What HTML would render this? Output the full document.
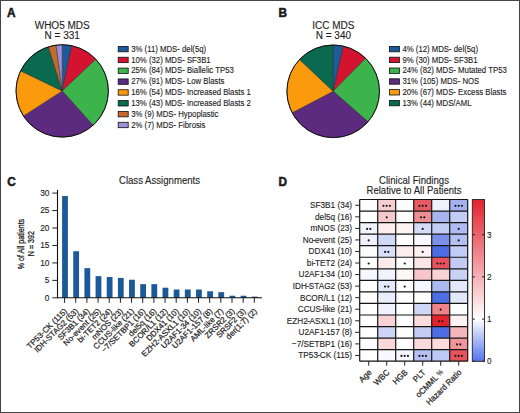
<!DOCTYPE html>
<html><head><meta charset="utf-8"><style>
html,body{margin:0;padding:0;background:#fff;}
svg{display:block;}
text{font-family:"Liberation Sans", sans-serif;fill:#1e1e1e;stroke:#1e1e1e;stroke-width:0.12px;}
.h{stroke-width:0.22px;}
.hb{stroke-width:0.3px;}
</style></head><body>
<svg width="520" height="413" viewBox="0 0 520 413">
<rect x="0.5" y="0.5" width="519" height="412" fill="#fff" stroke="#454545" stroke-width="1"/>
<text transform="translate(7.00,17.10) scale(1.0,1.04)" font-size="11.8" font-weight="bold" style="stroke:#111;stroke-width:0.5px">A</text>
<text transform="translate(278.40,17.10) scale(1.0,1.04)" font-size="11.8" font-weight="bold" style="stroke:#111;stroke-width:0.5px">B</text>
<text transform="translate(7.20,185.80) scale(1.0,1.04)" font-size="11.8" font-weight="bold" style="stroke:#111;stroke-width:0.5px">C</text>
<text transform="translate(278.40,185.70) scale(1.0,1.04)" font-size="11.8" font-weight="bold" style="stroke:#111;stroke-width:0.5px">D</text>
<text transform="translate(62.20,28.60)" font-size="10.0" text-anchor="middle">WHO5 MDS</text>
<text transform="translate(62.20,38.60)" font-size="10.0" text-anchor="middle">N = 331</text>
<path d="M62.2,90.9 L62.20,44.70 A46.2,46.2 0 0 1 71.78,45.70 Z" fill="#1d5a9a" stroke="#222" stroke-width="0.45" stroke-linejoin="round"/>
<path d="M62.2,90.9 L71.78,45.70 A46.2,46.2 0 0 1 95.86,59.25 Z" fill="#d3132f" stroke="#222" stroke-width="0.45" stroke-linejoin="round"/>
<path d="M62.2,90.9 L95.86,59.25 A46.2,46.2 0 0 1 93.04,125.30 Z" fill="#3cb44b" stroke="#222" stroke-width="0.45" stroke-linejoin="round"/>
<path d="M62.2,90.9 L93.04,125.30 A46.2,46.2 0 0 1 23.41,115.99 Z" fill="#5c2a7e" stroke="#222" stroke-width="0.45" stroke-linejoin="round"/>
<path d="M62.2,90.9 L23.41,115.99 A46.2,46.2 0 0 1 20.62,70.77 Z" fill="#fb9a0d" stroke="#222" stroke-width="0.45" stroke-linejoin="round"/>
<path d="M62.2,90.9 L20.62,70.77 A46.2,46.2 0 0 1 48.38,46.81 Z" fill="#0a6a50" stroke="#222" stroke-width="0.45" stroke-linejoin="round"/>
<path d="M62.2,90.9 L48.38,46.81 A46.2,46.2 0 0 1 56.08,45.11 Z" fill="#c46a2c" stroke="#222" stroke-width="0.45" stroke-linejoin="round"/>
<path d="M62.2,90.9 L56.08,45.11 A46.2,46.2 0 0 1 62.20,44.70 Z" fill="#9c90db" stroke="#222" stroke-width="0.45" stroke-linejoin="round"/>
<circle cx="62.2" cy="90.9" r="46.2" fill="none" stroke="#111" stroke-width="1"/>
<rect x="118.2" y="46.40" width="10" height="5.4" fill="#1d5a9a" stroke="#111" stroke-width="0.8"/>
<text transform="translate(131.20,51.80) scale(1.0,1.12)" font-size="7.78">3% (11) MDS- del(5q)</text>
<rect x="118.2" y="57.24" width="10" height="5.4" fill="#d3132f" stroke="#111" stroke-width="0.8"/>
<text transform="translate(131.20,62.64) scale(1.0,1.12)" font-size="7.78">10% (32) MDS- SF3B1</text>
<rect x="118.2" y="68.08" width="10" height="5.4" fill="#3cb44b" stroke="#111" stroke-width="0.8"/>
<text transform="translate(131.20,73.48) scale(1.0,1.12)" font-size="7.78">25% (84) MDS- Biallelic TP53</text>
<rect x="118.2" y="78.92" width="10" height="5.4" fill="#5c2a7e" stroke="#111" stroke-width="0.8"/>
<text transform="translate(131.20,84.32) scale(1.0,1.12)" font-size="7.78">27% (91) MDS- Low Blasts</text>
<rect x="118.2" y="89.76" width="10" height="5.4" fill="#fb9a0d" stroke="#111" stroke-width="0.8"/>
<text transform="translate(131.20,95.16) scale(1.0,1.12)" font-size="7.78">16% (54) MDS- Increased Blasts 1</text>
<rect x="118.2" y="100.60" width="10" height="5.4" fill="#0a6a50" stroke="#111" stroke-width="0.8"/>
<text transform="translate(131.20,106.00) scale(1.0,1.12)" font-size="7.78">13% (43) MDS- Increased Blasts 2</text>
<rect x="118.2" y="111.44" width="10" height="5.4" fill="#c46a2c" stroke="#111" stroke-width="0.8"/>
<text transform="translate(131.20,116.84) scale(1.0,1.12)" font-size="7.78">3% (9) MDS- Hypoplastic</text>
<rect x="118.2" y="122.28" width="10" height="5.4" fill="#9c90db" stroke="#111" stroke-width="0.8"/>
<text transform="translate(131.20,127.68) scale(1.0,1.12)" font-size="7.78">2% (7) MDS- Fibrosis</text>
<text transform="translate(333.40,28.60)" font-size="10.0" text-anchor="middle">ICC MDS</text>
<text transform="translate(333.40,38.60)" font-size="10.0" text-anchor="middle">N = 340</text>
<path d="M333.2,91.3 L333.20,45.00 A46.3,46.3 0 0 1 343.38,46.13 Z" fill="#1d5a9a" stroke="#222" stroke-width="0.45" stroke-linejoin="round"/>
<path d="M333.2,91.3 L343.38,46.13 A46.3,46.3 0 0 1 365.64,58.26 Z" fill="#d3132f" stroke="#222" stroke-width="0.45" stroke-linejoin="round"/>
<path d="M333.2,91.3 L365.64,58.26 A46.3,46.3 0 0 1 367.99,121.85 Z" fill="#3cb44b" stroke="#222" stroke-width="0.45" stroke-linejoin="round"/>
<path d="M333.2,91.3 L367.99,121.85 A46.3,46.3 0 0 1 292.14,112.70 Z" fill="#5c2a7e" stroke="#222" stroke-width="0.45" stroke-linejoin="round"/>
<path d="M333.2,91.3 L292.14,112.70 A46.3,46.3 0 0 1 299.57,59.48 Z" fill="#fb9a0d" stroke="#222" stroke-width="0.45" stroke-linejoin="round"/>
<path d="M333.2,91.3 L299.57,59.48 A46.3,46.3 0 0 1 333.20,45.00 Z" fill="#0a6a50" stroke="#222" stroke-width="0.45" stroke-linejoin="round"/>
<circle cx="333.2" cy="91.3" r="46.3" fill="none" stroke="#111" stroke-width="1"/>
<rect x="389.4" y="46.40" width="10" height="5.4" fill="#1d5a9a" stroke="#111" stroke-width="0.8"/>
<text transform="translate(402.40,51.80) scale(1.0,1.12)" font-size="7.78">4% (12) MDS- del(5q)</text>
<rect x="389.4" y="57.20" width="10" height="5.4" fill="#d3132f" stroke="#111" stroke-width="0.8"/>
<text transform="translate(402.40,62.60) scale(1.0,1.12)" font-size="7.78">9% (30) MDS- SF3B1</text>
<rect x="389.4" y="68.00" width="10" height="5.4" fill="#3cb44b" stroke="#111" stroke-width="0.8"/>
<text transform="translate(402.40,73.40) scale(1.0,1.12)" font-size="7.78">24% (82) MDS- Mutated TP53</text>
<rect x="389.4" y="78.80" width="10" height="5.4" fill="#5c2a7e" stroke="#111" stroke-width="0.8"/>
<text transform="translate(402.40,84.20) scale(1.0,1.12)" font-size="7.78">31% (105) MDS- NOS</text>
<rect x="389.4" y="89.60" width="10" height="5.4" fill="#fb9a0d" stroke="#111" stroke-width="0.8"/>
<text transform="translate(402.40,95.00) scale(1.0,1.12)" font-size="7.78">20% (67) MDS- Excess Blasts</text>
<rect x="389.4" y="100.40" width="10" height="5.4" fill="#0a6a50" stroke="#111" stroke-width="0.8"/>
<text transform="translate(402.40,105.80) scale(1.0,1.12)" font-size="7.78">13% (44) MDS/AML</text>
<text transform="translate(159.50,183.90) scale(1.0,1.12)" font-size="9.6" text-anchor="middle">Class Assignments</text>
<rect x="62.10" y="196.04" width="5.8" height="101.76" fill="#1a5a9a"/>
<line x1="64.60" y1="297.8" x2="64.60" y2="302.8" stroke="#1e1e1e" stroke-width="1"/>
<text transform="translate(67.70,311.60) rotate(-45)" font-size="8.0" text-anchor="end" class="h">TP53-CK (115)</text>
<rect x="73.26" y="251.23" width="5.8" height="46.57" fill="#1a5a9a"/>
<line x1="75.76" y1="297.8" x2="75.76" y2="302.8" stroke="#1e1e1e" stroke-width="1"/>
<text transform="translate(78.86,311.60) rotate(-45)" font-size="8.0" text-anchor="end" class="h">IDH-STAG2 (53)</text>
<rect x="84.42" y="268.14" width="5.8" height="29.66" fill="#1a5a9a"/>
<line x1="86.92" y1="297.8" x2="86.92" y2="302.8" stroke="#1e1e1e" stroke-width="1"/>
<text transform="translate(90.02,311.60) rotate(-45)" font-size="8.0" text-anchor="end" class="h">SF3B1 (34)</text>
<rect x="95.58" y="276.15" width="5.8" height="21.65" fill="#1a5a9a"/>
<line x1="98.08" y1="297.8" x2="98.08" y2="302.8" stroke="#1e1e1e" stroke-width="1"/>
<text transform="translate(101.18,311.60) rotate(-45)" font-size="8.0" text-anchor="end" class="h">No-event (25)</text>
<rect x="106.74" y="277.04" width="5.8" height="20.76" fill="#1a5a9a"/>
<line x1="109.24" y1="297.8" x2="109.24" y2="302.8" stroke="#1e1e1e" stroke-width="1"/>
<text transform="translate(112.34,311.60) rotate(-45)" font-size="8.0" text-anchor="end" class="h">bi-TET2 (24)</text>
<rect x="117.90" y="277.93" width="5.8" height="19.87" fill="#1a5a9a"/>
<line x1="120.40" y1="297.8" x2="120.40" y2="302.8" stroke="#1e1e1e" stroke-width="1"/>
<text transform="translate(123.50,311.60) rotate(-45)" font-size="8.0" text-anchor="end" class="h">mNOS (23)</text>
<rect x="129.06" y="279.71" width="5.8" height="18.09" fill="#1a5a9a"/>
<line x1="131.56" y1="297.8" x2="131.56" y2="302.8" stroke="#1e1e1e" stroke-width="1"/>
<text transform="translate(134.66,311.60) rotate(-45)" font-size="8.0" text-anchor="end" class="h">CCUS-like (21)</text>
<rect x="140.22" y="284.16" width="5.8" height="13.64" fill="#1a5a9a"/>
<line x1="142.72" y1="297.8" x2="142.72" y2="302.8" stroke="#1e1e1e" stroke-width="1"/>
<text transform="translate(145.82,311.60) rotate(-45)" font-size="8.0" text-anchor="end" class="h">−7/SETBP1 (16)</text>
<rect x="151.38" y="284.16" width="5.8" height="13.64" fill="#1a5a9a"/>
<line x1="153.88" y1="297.8" x2="153.88" y2="302.8" stroke="#1e1e1e" stroke-width="1"/>
<text transform="translate(156.98,311.60) rotate(-45)" font-size="8.0" text-anchor="end" class="h">del5q (16)</text>
<rect x="162.54" y="287.72" width="5.8" height="10.08" fill="#1a5a9a"/>
<line x1="165.04" y1="297.8" x2="165.04" y2="302.8" stroke="#1e1e1e" stroke-width="1"/>
<text transform="translate(168.14,311.60) rotate(-45)" font-size="8.0" text-anchor="end" class="h">BCOR/L1 (12)</text>
<rect x="173.70" y="289.50" width="5.8" height="8.30" fill="#1a5a9a"/>
<line x1="176.20" y1="297.8" x2="176.20" y2="302.8" stroke="#1e1e1e" stroke-width="1"/>
<text transform="translate(179.30,311.60) rotate(-45)" font-size="8.0" text-anchor="end" class="h">DDX41 (10)</text>
<rect x="184.86" y="289.50" width="5.8" height="8.30" fill="#1a5a9a"/>
<line x1="187.36" y1="297.8" x2="187.36" y2="302.8" stroke="#1e1e1e" stroke-width="1"/>
<text transform="translate(190.46,311.60) rotate(-45)" font-size="8.0" text-anchor="end" class="h">EZH2-ASXL1 (10)</text>
<rect x="196.02" y="289.50" width="5.8" height="8.30" fill="#1a5a9a"/>
<line x1="198.52" y1="297.8" x2="198.52" y2="302.8" stroke="#1e1e1e" stroke-width="1"/>
<text transform="translate(201.62,311.60) rotate(-45)" font-size="8.0" text-anchor="end" class="h">U2AF1-34 (10)</text>
<rect x="207.18" y="291.28" width="5.8" height="6.52" fill="#1a5a9a"/>
<line x1="209.68" y1="297.8" x2="209.68" y2="302.8" stroke="#1e1e1e" stroke-width="1"/>
<text transform="translate(212.78,311.60) rotate(-45)" font-size="8.0" text-anchor="end" class="h">U2AF1-157 (8)</text>
<rect x="218.34" y="292.17" width="5.8" height="5.63" fill="#1a5a9a"/>
<line x1="220.84" y1="297.8" x2="220.84" y2="302.8" stroke="#1e1e1e" stroke-width="1"/>
<text transform="translate(223.94,311.60) rotate(-45)" font-size="8.0" text-anchor="end" class="h">AML-like (7)</text>
<rect x="229.50" y="295.73" width="5.8" height="2.07" fill="#1a5a9a"/>
<line x1="232.00" y1="297.8" x2="232.00" y2="302.8" stroke="#1e1e1e" stroke-width="1"/>
<text transform="translate(235.10,311.60) rotate(-45)" font-size="8.0" text-anchor="end" class="h">ZRSR2 (3)</text>
<rect x="240.66" y="295.73" width="5.8" height="2.07" fill="#1a5a9a"/>
<line x1="243.16" y1="297.8" x2="243.16" y2="302.8" stroke="#1e1e1e" stroke-width="1"/>
<text transform="translate(246.26,311.60) rotate(-45)" font-size="8.0" text-anchor="end" class="h">SRSF2 (3)</text>
<rect x="251.82" y="296.62" width="5.8" height="1.18" fill="#1a5a9a"/>
<line x1="254.32" y1="297.8" x2="254.32" y2="302.8" stroke="#1e1e1e" stroke-width="1"/>
<text transform="translate(257.42,311.60) rotate(-45)" font-size="8.0" text-anchor="end" class="h">der(1;7) (2)</text>
<line x1="57.5" y1="297.8" x2="262" y2="297.8" stroke="#111" stroke-width="1.1"/>
<line x1="57.5" y1="190" x2="57.5" y2="298.3" stroke="#111" stroke-width="1.1"/>
<line x1="52.3" y1="297.80" x2="57.5" y2="297.80" stroke="#1e1e1e" stroke-width="1"/>
<text transform="translate(49.40,300.50) scale(1.0,1.12)" font-size="8.3" text-anchor="end">0</text>
<line x1="52.3" y1="280.35" x2="57.5" y2="280.35" stroke="#1e1e1e" stroke-width="1"/>
<text transform="translate(49.40,283.05) scale(1.0,1.12)" font-size="8.3" text-anchor="end">5</text>
<line x1="52.3" y1="262.90" x2="57.5" y2="262.90" stroke="#1e1e1e" stroke-width="1"/>
<text transform="translate(49.40,265.60) scale(1.0,1.12)" font-size="8.3" text-anchor="end">10</text>
<line x1="52.3" y1="245.45" x2="57.5" y2="245.45" stroke="#1e1e1e" stroke-width="1"/>
<text transform="translate(49.40,248.15) scale(1.0,1.12)" font-size="8.3" text-anchor="end">15</text>
<line x1="52.3" y1="228.00" x2="57.5" y2="228.00" stroke="#1e1e1e" stroke-width="1"/>
<text transform="translate(49.40,230.70) scale(1.0,1.12)" font-size="8.3" text-anchor="end">20</text>
<line x1="52.3" y1="210.55" x2="57.5" y2="210.55" stroke="#1e1e1e" stroke-width="1"/>
<text transform="translate(49.40,213.25) scale(1.0,1.12)" font-size="8.3" text-anchor="end">25</text>
<line x1="52.3" y1="193.10" x2="57.5" y2="193.10" stroke="#1e1e1e" stroke-width="1"/>
<text transform="translate(49.40,195.80) scale(1.0,1.12)" font-size="8.3" text-anchor="end">30</text>
<text transform="translate(24.00,244.10) rotate(-90) scale(0.74,1.0)" font-size="9.6" text-anchor="middle" class="hb">% of All patients</text>
<text transform="translate(34.00,243.60) rotate(-90) scale(0.74,1.0)" font-size="9.6" text-anchor="middle" class="hb">N = 392</text>
<rect x="359.70" y="199.50" width="18.00" height="11.55" fill="#fefefe"/>
<rect x="377.70" y="199.50" width="18.00" height="11.55" fill="#f6cfd0"/>
<circle cx="383.45" cy="205.78" r="1.1" fill="#1a1a1a"/>
<circle cx="386.70" cy="205.78" r="1.1" fill="#1a1a1a"/>
<circle cx="389.95" cy="205.78" r="1.1" fill="#1a1a1a"/>
<rect x="395.70" y="199.50" width="18.00" height="11.55" fill="#fbfcfe"/>
<rect x="413.70" y="199.50" width="18.00" height="11.55" fill="#e65a62"/>
<circle cx="419.45" cy="205.78" r="1.1" fill="#1a1a1a"/>
<circle cx="422.70" cy="205.78" r="1.1" fill="#1a1a1a"/>
<circle cx="425.95" cy="205.78" r="1.1" fill="#1a1a1a"/>
<rect x="431.70" y="199.50" width="18.00" height="11.55" fill="#eef0fc"/>
<rect x="449.70" y="199.50" width="18.00" height="11.55" fill="#a3b1ef"/>
<circle cx="455.45" cy="205.78" r="1.1" fill="#1a1a1a"/>
<circle cx="458.70" cy="205.78" r="1.1" fill="#1a1a1a"/>
<circle cx="461.95" cy="205.78" r="1.1" fill="#1a1a1a"/>
<rect x="359.70" y="211.05" width="18.00" height="11.55" fill="#fefefe"/>
<rect x="377.70" y="211.05" width="18.00" height="11.55" fill="#f5c9ca"/>
<circle cx="386.70" cy="217.33" r="1.1" fill="#1a1a1a"/>
<rect x="395.70" y="211.05" width="18.00" height="11.55" fill="#fefcfc"/>
<rect x="413.70" y="211.05" width="18.00" height="11.55" fill="#ee8d92"/>
<circle cx="421.07" cy="217.33" r="1.1" fill="#1a1a1a"/>
<circle cx="424.32" cy="217.33" r="1.1" fill="#1a1a1a"/>
<rect x="431.70" y="211.05" width="18.00" height="11.55" fill="#a6b4ef"/>
<rect x="449.70" y="211.05" width="18.00" height="11.55" fill="#c3ccf4"/>
<rect x="359.70" y="222.60" width="18.00" height="11.55" fill="#f1f3fd"/>
<circle cx="367.07" cy="228.88" r="1.1" fill="#1a1a1a"/>
<circle cx="370.32" cy="228.88" r="1.1" fill="#1a1a1a"/>
<rect x="377.70" y="222.60" width="18.00" height="11.55" fill="#fdefec"/>
<rect x="395.70" y="222.60" width="18.00" height="11.55" fill="#fdf4f2"/>
<rect x="413.70" y="222.60" width="18.00" height="11.55" fill="#d5dbf7"/>
<circle cx="422.70" cy="228.88" r="1.1" fill="#1a1a1a"/>
<rect x="431.70" y="222.60" width="18.00" height="11.55" fill="#c3ccf4"/>
<rect x="449.70" y="222.60" width="18.00" height="11.55" fill="#b0bcf1"/>
<circle cx="458.70" cy="228.88" r="1.1" fill="#1a1a1a"/>
<rect x="359.70" y="234.15" width="18.00" height="11.55" fill="#eff1fc"/>
<circle cx="368.70" cy="240.43" r="1.1" fill="#1a1a1a"/>
<rect x="377.70" y="234.15" width="18.00" height="11.55" fill="#d2d9f6"/>
<rect x="395.70" y="234.15" width="18.00" height="11.55" fill="#fefefe"/>
<rect x="413.70" y="234.15" width="18.00" height="11.55" fill="#f8f8fe"/>
<rect x="431.70" y="234.15" width="18.00" height="11.55" fill="#7b90e9"/>
<rect x="449.70" y="234.15" width="18.00" height="11.55" fill="#b4c0f2"/>
<circle cx="458.70" cy="240.43" r="1.1" fill="#1a1a1a"/>
<rect x="359.70" y="245.70" width="18.00" height="11.55" fill="#fbfbfe"/>
<rect x="377.70" y="245.70" width="18.00" height="11.55" fill="#d9dff8"/>
<circle cx="385.07" cy="251.97" r="1.1" fill="#1a1a1a"/>
<circle cx="388.32" cy="251.97" r="1.1" fill="#1a1a1a"/>
<rect x="395.70" y="245.70" width="18.00" height="11.55" fill="#fcecec"/>
<rect x="413.70" y="245.70" width="18.00" height="11.55" fill="#fdf2f1"/>
<circle cx="422.70" cy="251.97" r="1.1" fill="#1a1a1a"/>
<rect x="431.70" y="245.70" width="18.00" height="11.55" fill="#4d6de6"/>
<rect x="449.70" y="245.70" width="18.00" height="11.55" fill="#c3ccf4"/>
<rect x="359.70" y="257.25" width="18.00" height="11.55" fill="#fefefe"/>
<circle cx="368.70" cy="263.52" r="1.1" fill="#1a1a1a"/>
<rect x="377.70" y="257.25" width="18.00" height="11.55" fill="#fbeaea"/>
<rect x="395.70" y="257.25" width="18.00" height="11.55" fill="#fefefe"/>
<circle cx="404.70" cy="263.52" r="1.1" fill="#1a1a1a"/>
<rect x="413.70" y="257.25" width="18.00" height="11.55" fill="#fbe5e5"/>
<rect x="431.70" y="257.25" width="18.00" height="11.55" fill="#e9525c"/>
<circle cx="437.45" cy="263.52" r="1.1" fill="#1a1a1a"/>
<circle cx="440.70" cy="263.52" r="1.1" fill="#1a1a1a"/>
<circle cx="443.95" cy="263.52" r="1.1" fill="#1a1a1a"/>
<rect x="449.70" y="257.25" width="18.00" height="11.55" fill="#c2cbf4"/>
<rect x="359.70" y="268.80" width="18.00" height="11.55" fill="#f5f6fe"/>
<rect x="377.70" y="268.80" width="18.00" height="11.55" fill="#f2f4fd"/>
<rect x="395.70" y="268.80" width="18.00" height="11.55" fill="#fdf7f6"/>
<rect x="413.70" y="268.80" width="18.00" height="11.55" fill="#f6c6cb"/>
<rect x="431.70" y="268.80" width="18.00" height="11.55" fill="#f8d3d5"/>
<rect x="449.70" y="268.80" width="18.00" height="11.55" fill="#c9d1f5"/>
<rect x="359.70" y="280.35" width="18.00" height="11.55" fill="#fefefe"/>
<rect x="377.70" y="280.35" width="18.00" height="11.55" fill="#e3e8fa"/>
<circle cx="385.07" cy="286.62" r="1.1" fill="#1a1a1a"/>
<circle cx="388.32" cy="286.62" r="1.1" fill="#1a1a1a"/>
<rect x="395.70" y="280.35" width="18.00" height="11.55" fill="#fefefe"/>
<circle cx="404.70" cy="286.62" r="1.1" fill="#1a1a1a"/>
<rect x="413.70" y="280.35" width="18.00" height="11.55" fill="#f6f7fe"/>
<rect x="431.70" y="280.35" width="18.00" height="11.55" fill="#abb9f1"/>
<rect x="449.70" y="280.35" width="18.00" height="11.55" fill="#e2e7fa"/>
<rect x="359.70" y="291.90" width="18.00" height="11.55" fill="#fefefe"/>
<rect x="377.70" y="291.90" width="18.00" height="11.55" fill="#eaedfc"/>
<rect x="395.70" y="291.90" width="18.00" height="11.55" fill="#fefefe"/>
<rect x="413.70" y="291.90" width="18.00" height="11.55" fill="#fefefe"/>
<rect x="431.70" y="291.90" width="18.00" height="11.55" fill="#4e6ee4"/>
<rect x="449.70" y="291.90" width="18.00" height="11.55" fill="#e3e7fa"/>
<rect x="359.70" y="303.45" width="18.00" height="11.55" fill="#fefefe"/>
<rect x="377.70" y="303.45" width="18.00" height="11.55" fill="#f0f2fd"/>
<rect x="395.70" y="303.45" width="18.00" height="11.55" fill="#fefefe"/>
<rect x="413.70" y="303.45" width="18.00" height="11.55" fill="#d0d7f6"/>
<rect x="431.70" y="303.45" width="18.00" height="11.55" fill="#f08389"/>
<circle cx="440.70" cy="309.72" r="1.1" fill="#1a1a1a"/>
<rect x="449.70" y="303.45" width="18.00" height="11.55" fill="#fdfdfd"/>
<rect x="359.70" y="315.00" width="18.00" height="11.55" fill="#fefefe"/>
<rect x="377.70" y="315.00" width="18.00" height="11.55" fill="#f8d2d4"/>
<rect x="395.70" y="315.00" width="18.00" height="11.55" fill="#fefefe"/>
<rect x="413.70" y="315.00" width="18.00" height="11.55" fill="#fadcdd"/>
<rect x="431.70" y="315.00" width="18.00" height="11.55" fill="#e2222f"/>
<circle cx="439.07" cy="321.27" r="1.1" fill="#1a1a1a"/>
<circle cx="442.32" cy="321.27" r="1.1" fill="#1a1a1a"/>
<rect x="449.70" y="315.00" width="18.00" height="11.55" fill="#fdf2f2"/>
<rect x="359.70" y="326.55" width="18.00" height="11.55" fill="#fefefe"/>
<rect x="377.70" y="326.55" width="18.00" height="11.55" fill="#cdd5f6"/>
<rect x="395.70" y="326.55" width="18.00" height="11.55" fill="#fefefe"/>
<rect x="413.70" y="326.55" width="18.00" height="11.55" fill="#c2ccf4"/>
<rect x="431.70" y="326.55" width="18.00" height="11.55" fill="#4e6ee6"/>
<rect x="449.70" y="326.55" width="18.00" height="11.55" fill="#f3b6ba"/>
<rect x="359.70" y="338.10" width="18.00" height="11.55" fill="#fcfcfe"/>
<rect x="377.70" y="338.10" width="18.00" height="11.55" fill="#f9d8da"/>
<rect x="395.70" y="338.10" width="18.00" height="11.55" fill="#fefefe"/>
<rect x="413.70" y="338.10" width="18.00" height="11.55" fill="#fadadc"/>
<rect x="431.70" y="338.10" width="18.00" height="11.55" fill="#fbdcde"/>
<rect x="449.70" y="338.10" width="18.00" height="11.55" fill="#f0969b"/>
<circle cx="457.07" cy="344.38" r="1.1" fill="#1a1a1a"/>
<circle cx="460.32" cy="344.38" r="1.1" fill="#1a1a1a"/>
<rect x="359.70" y="349.65" width="18.00" height="11.55" fill="#fefefe"/>
<rect x="377.70" y="349.65" width="18.00" height="11.55" fill="#f8f8fe"/>
<rect x="395.70" y="349.65" width="18.00" height="11.55" fill="#f5f6fe"/>
<circle cx="401.45" cy="355.92" r="1.1" fill="#1a1a1a"/>
<circle cx="404.70" cy="355.92" r="1.1" fill="#1a1a1a"/>
<circle cx="407.95" cy="355.92" r="1.1" fill="#1a1a1a"/>
<rect x="413.70" y="349.65" width="18.00" height="11.55" fill="#b7c2f3"/>
<circle cx="419.45" cy="355.92" r="1.1" fill="#1a1a1a"/>
<circle cx="422.70" cy="355.92" r="1.1" fill="#1a1a1a"/>
<circle cx="425.95" cy="355.92" r="1.1" fill="#1a1a1a"/>
<rect x="431.70" y="349.65" width="18.00" height="11.55" fill="#bec8f4"/>
<rect x="449.70" y="349.65" width="18.00" height="11.55" fill="#e8535d"/>
<circle cx="455.45" cy="355.92" r="1.1" fill="#1a1a1a"/>
<circle cx="458.70" cy="355.92" r="1.1" fill="#1a1a1a"/>
<circle cx="461.95" cy="355.92" r="1.1" fill="#1a1a1a"/>
<line x1="359.70" y1="199.5" x2="359.70" y2="361.20" stroke="#141414" stroke-width="1.2"/>
<line x1="377.70" y1="199.5" x2="377.70" y2="361.20" stroke="#141414" stroke-width="1.2"/>
<line x1="395.70" y1="199.5" x2="395.70" y2="361.20" stroke="#141414" stroke-width="1.2"/>
<line x1="413.70" y1="199.5" x2="413.70" y2="361.20" stroke="#141414" stroke-width="1.2"/>
<line x1="431.70" y1="199.5" x2="431.70" y2="361.20" stroke="#141414" stroke-width="1.2"/>
<line x1="449.70" y1="199.5" x2="449.70" y2="361.20" stroke="#141414" stroke-width="1.2"/>
<line x1="467.70" y1="199.5" x2="467.70" y2="361.20" stroke="#141414" stroke-width="1.2"/>
<line x1="359.7" y1="199.50" x2="467.70" y2="199.50" stroke="#141414" stroke-width="1.2"/>
<line x1="359.7" y1="211.05" x2="467.70" y2="211.05" stroke="#141414" stroke-width="1.2"/>
<line x1="359.7" y1="222.60" x2="467.70" y2="222.60" stroke="#141414" stroke-width="1.2"/>
<line x1="359.7" y1="234.15" x2="467.70" y2="234.15" stroke="#141414" stroke-width="1.2"/>
<line x1="359.7" y1="245.70" x2="467.70" y2="245.70" stroke="#141414" stroke-width="1.2"/>
<line x1="359.7" y1="257.25" x2="467.70" y2="257.25" stroke="#141414" stroke-width="1.2"/>
<line x1="359.7" y1="268.80" x2="467.70" y2="268.80" stroke="#141414" stroke-width="1.2"/>
<line x1="359.7" y1="280.35" x2="467.70" y2="280.35" stroke="#141414" stroke-width="1.2"/>
<line x1="359.7" y1="291.90" x2="467.70" y2="291.90" stroke="#141414" stroke-width="1.2"/>
<line x1="359.7" y1="303.45" x2="467.70" y2="303.45" stroke="#141414" stroke-width="1.2"/>
<line x1="359.7" y1="315.00" x2="467.70" y2="315.00" stroke="#141414" stroke-width="1.2"/>
<line x1="359.7" y1="326.55" x2="467.70" y2="326.55" stroke="#141414" stroke-width="1.2"/>
<line x1="359.7" y1="338.10" x2="467.70" y2="338.10" stroke="#141414" stroke-width="1.2"/>
<line x1="359.7" y1="349.65" x2="467.70" y2="349.65" stroke="#141414" stroke-width="1.2"/>
<line x1="359.7" y1="361.20" x2="467.70" y2="361.20" stroke="#141414" stroke-width="1.2"/>
<line x1="355.20" y1="205.28" x2="359.70" y2="205.28" stroke="#222" stroke-width="1"/>
<text transform="translate(352.10,208.18) scale(1.0,1.12)" font-size="8.25" text-anchor="end">SF3B1 (34)</text>
<line x1="355.20" y1="216.83" x2="359.70" y2="216.83" stroke="#222" stroke-width="1"/>
<text transform="translate(352.10,219.73) scale(1.0,1.12)" font-size="8.25" text-anchor="end">del5q (16)</text>
<line x1="355.20" y1="228.38" x2="359.70" y2="228.38" stroke="#222" stroke-width="1"/>
<text transform="translate(352.10,231.28) scale(1.0,1.12)" font-size="8.25" text-anchor="end">mNOS (23)</text>
<line x1="355.20" y1="239.93" x2="359.70" y2="239.93" stroke="#222" stroke-width="1"/>
<text transform="translate(352.10,242.83) scale(1.0,1.12)" font-size="8.25" text-anchor="end">No<tspan dx="-0.5">-</tspan><tspan dx="-0.5">event (25)</tspan></text>
<line x1="355.20" y1="251.47" x2="359.70" y2="251.47" stroke="#222" stroke-width="1"/>
<text transform="translate(352.10,254.38) scale(1.0,1.12)" font-size="8.25" text-anchor="end">DDX41 (10)</text>
<line x1="355.20" y1="263.02" x2="359.70" y2="263.02" stroke="#222" stroke-width="1"/>
<text transform="translate(352.10,265.92) scale(1.0,1.12)" font-size="8.25" text-anchor="end">bi<tspan dx="-0.5">-</tspan><tspan dx="-0.5">TET2 (24)</tspan></text>
<line x1="355.20" y1="274.57" x2="359.70" y2="274.57" stroke="#222" stroke-width="1"/>
<text transform="translate(352.10,277.47) scale(1.0,1.12)" font-size="8.25" text-anchor="end">U2AF1<tspan dx="-0.5">-</tspan><tspan dx="-0.5">34 (10)</tspan></text>
<line x1="355.20" y1="286.12" x2="359.70" y2="286.12" stroke="#222" stroke-width="1"/>
<text transform="translate(352.10,289.02) scale(1.0,1.12)" font-size="8.25" text-anchor="end">IDH<tspan dx="-0.5">-</tspan><tspan dx="-0.5">STAG2 (53)</tspan></text>
<line x1="355.20" y1="297.67" x2="359.70" y2="297.67" stroke="#222" stroke-width="1"/>
<text transform="translate(352.10,300.57) scale(1.0,1.12)" font-size="8.25" text-anchor="end">BCOR/L1 (12)</text>
<line x1="355.20" y1="309.22" x2="359.70" y2="309.22" stroke="#222" stroke-width="1"/>
<text transform="translate(352.10,312.12) scale(1.0,1.12)" font-size="8.25" text-anchor="end">CCUS<tspan dx="-0.5">-</tspan><tspan dx="-0.5">like (21)</tspan></text>
<line x1="355.20" y1="320.77" x2="359.70" y2="320.77" stroke="#222" stroke-width="1"/>
<text transform="translate(352.10,323.67) scale(1.0,1.12)" font-size="8.25" text-anchor="end">EZH2<tspan dx="-0.5">-</tspan><tspan dx="-0.5">ASXL1 (10)</tspan></text>
<line x1="355.20" y1="332.32" x2="359.70" y2="332.32" stroke="#222" stroke-width="1"/>
<text transform="translate(352.10,335.22) scale(1.0,1.12)" font-size="8.25" text-anchor="end">U2AF1<tspan dx="-0.5">-</tspan><tspan dx="-0.5">157 (8)</tspan></text>
<line x1="355.20" y1="343.88" x2="359.70" y2="343.88" stroke="#222" stroke-width="1"/>
<text transform="translate(352.10,346.77) scale(1.0,1.12)" font-size="8.25" text-anchor="end">−7/SETBP1 (16)</text>
<line x1="355.20" y1="355.42" x2="359.70" y2="355.42" stroke="#222" stroke-width="1"/>
<text transform="translate(352.10,358.32) scale(1.0,1.12)" font-size="8.25" text-anchor="end">TP53<tspan dx="-0.5">-</tspan><tspan dx="-0.5">CK (115)</tspan></text>
<line x1="368.70" y1="361.20" x2="368.70" y2="365.70" stroke="#222" stroke-width="1"/>
<text transform="translate(372.10,373.00) rotate(-45) scale(1.0,1.06)" font-size="7.9" text-anchor="end" class="h">Age</text>
<line x1="386.70" y1="361.20" x2="386.70" y2="365.70" stroke="#222" stroke-width="1"/>
<text transform="translate(390.10,373.00) rotate(-45) scale(1.0,1.06)" font-size="7.9" text-anchor="end" class="h">WBC</text>
<line x1="404.70" y1="361.20" x2="404.70" y2="365.70" stroke="#222" stroke-width="1"/>
<text transform="translate(408.10,373.00) rotate(-45) scale(1.0,1.06)" font-size="7.9" text-anchor="end" class="h">HGB</text>
<line x1="422.70" y1="361.20" x2="422.70" y2="365.70" stroke="#222" stroke-width="1"/>
<text transform="translate(426.10,373.00) rotate(-45) scale(1.0,1.06)" font-size="7.9" text-anchor="end" class="h">PLT</text>
<line x1="440.70" y1="361.20" x2="440.70" y2="365.70" stroke="#222" stroke-width="1"/>
<text transform="translate(444.10,373.00) rotate(-45) scale(1.0,1.06)" font-size="7.9" text-anchor="end" class="h">oCMML <tspan font-size="6.6" fill="#555" stroke="#555" dy="-0.8">%</tspan></text>
<line x1="458.70" y1="361.20" x2="458.70" y2="365.70" stroke="#222" stroke-width="1"/>
<text transform="translate(462.10,373.00) rotate(-45) scale(1.0,1.06)" font-size="7.9" text-anchor="end" class="h">Hazard Ratio</text>
<text transform="translate(414.00,184.10) scale(1.0,1.12)" font-size="9.6" text-anchor="middle">Clinical Findings</text>
<text transform="translate(414.00,193.80) scale(1.0,1.12)" font-size="9.55" text-anchor="middle">Relative to All Patients</text>
<defs><linearGradient id="cb" x1="0" y1="1" x2="0" y2="0">
<stop offset="0" stop-color="#5373ec"/><stop offset="0.2608" stop-color="#ffffff"/><stop offset="1" stop-color="#e3222f"/></linearGradient></defs>
<rect x="472.3" y="199.5" width="12.2" height="161.80" fill="url(#cb)" stroke="#222" stroke-width="0.9"/>
<line x1="472.3" y1="361.30" x2="474.8" y2="361.30" stroke="#222" stroke-width="1"/>
<line x1="482.0" y1="361.30" x2="484.5" y2="361.30" stroke="#222" stroke-width="1"/>
<text transform="translate(487.00,364.10) scale(1.0,1.12)" font-size="8.1">0</text>
<line x1="472.3" y1="319.10" x2="474.8" y2="319.10" stroke="#222" stroke-width="1"/>
<line x1="482.0" y1="319.10" x2="484.5" y2="319.10" stroke="#222" stroke-width="1"/>
<text transform="translate(487.00,321.90) scale(1.0,1.12)" font-size="8.1">1</text>
<line x1="472.3" y1="276.90" x2="474.8" y2="276.90" stroke="#222" stroke-width="1"/>
<line x1="482.0" y1="276.90" x2="484.5" y2="276.90" stroke="#222" stroke-width="1"/>
<text transform="translate(487.00,279.70) scale(1.0,1.12)" font-size="8.1">2</text>
<line x1="472.3" y1="234.70" x2="474.8" y2="234.70" stroke="#222" stroke-width="1"/>
<line x1="482.0" y1="234.70" x2="484.5" y2="234.70" stroke="#222" stroke-width="1"/>
<text transform="translate(487.00,237.50) scale(1.0,1.12)" font-size="8.1">3</text>
</svg>
</body></html>
